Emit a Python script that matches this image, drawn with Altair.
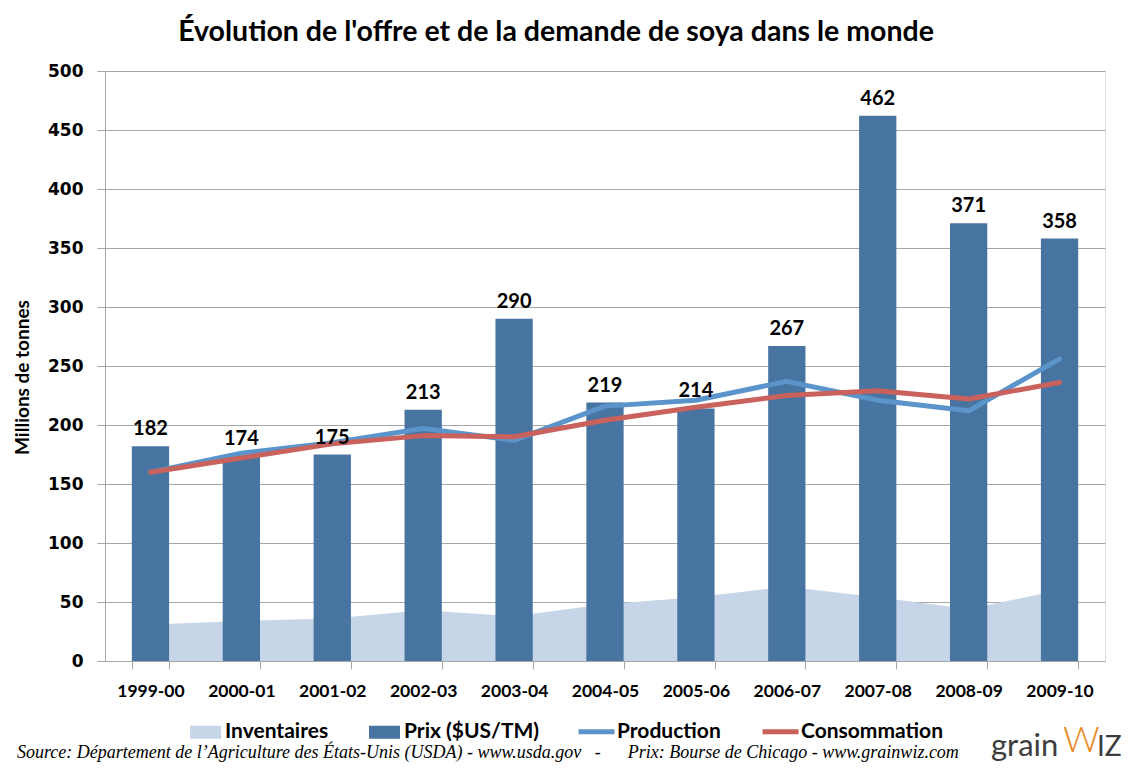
import altair as alt
import pandas as pd

categories = ["1999-00", "2000-01", "2001-02", "2002-03", "2003-04", "2004-05",
              "2005-06", "2006-07", "2007-08", "2008-09", "2009-10"]
prix = [182, 174, 175, 213, 290, 219, 214, 267, 462, 371, 358]
production = [160, 176, 185, 197, 187, 216, 221, 237, 221, 212, 256]
consommation = [160, 172, 184, 191, 190, 204, 215, 225, 229, 222, 236]
inventaires = [31, 34, 36, 43, 38, 48, 54, 63, 54, 44, 60]

fill_domain = ["Inventaires", "Prix ($US/TM)"]
fill_range = ["#c6d6e8", "#4874a1"]
stroke_domain = ["Production", "Consommation"]
stroke_range = ["#5b94cb", "#c9615c"]

title_text = "Évolution de l'offre et de la demande de soya dans le monde"
source_text = ("Source: Département de l\u2019Agriculture des États-Unis (USDA) - www.usda.gov"
               "\u00a0\u00a0\u00a0-\u00a0\u00a0\u00a0\u00a0\u00a0\u00a0Prix: Bourse de Chicago - www.grainwiz.com")

bars_df = pd.DataFrame({"annee": categories, "valeur": prix, "serie": "Prix ($US/TM)"})
area_df = pd.DataFrame({"annee": categories, "valeur": inventaires, "serie": "Inventaires"})
prod_df = pd.DataFrame({"annee": categories, "valeur": production, "serie": "Production"})
cons_df = pd.DataFrame({"annee": categories, "valeur": consommation, "serie": "Consommation"})

GRID = "#a6a6a6"

x = alt.X("annee:N", sort=categories,
          scale=alt.Scale(paddingInner=0.59, paddingOuter=0.295),
          axis=alt.Axis(title=None, labelAngle=0, tickBand="extent", grid=False,
                        labelFont="Lato", labelFontWeight="bold", labelFontSize=17.5,
                        labelColor="black", labelPadding=13, tickSize=8,
                        tickColor=GRID, domainColor=GRID))
y = alt.Y("valeur:Q", scale=alt.Scale(domain=[0, 500], nice=False),
          axis=alt.Axis(values=list(range(0, 501, 50)), title="Millions de tonnes",
                        labelFont="DejaVu Sans", labelFontWeight="bold", labelFontSize=17,
                        labelColor="black", labelPadding=14, tickSize=8,
                        tickColor=GRID, domainColor=GRID, gridColor=GRID,
                        titleFont="Lato", titleFontWeight="bold", titleFontSize=19,
                        titleColor="black", titlePadding=15, titleY=306))

fill_enc = alt.Fill("serie:N", scale=alt.Scale(domain=fill_domain, range=fill_range),
                    legend=alt.Legend(title=None, orient="none", legendX=85, legendY=645.5,
                                      direction="horizontal", padding=0,
                                      symbolType="M-1,-0.42H1V0.42H-1Z", symbolSize=961,
                                      symbolStrokeWidth=0, symbolOpacity=1,
                                      labelFont="Lato", labelFontWeight="bold",
                                      labelFontSize=21, labelColor="black",
                                      labelOffset=4, columnPadding=40))
stroke_enc = alt.Stroke("serie:N", scale=alt.Scale(domain=stroke_domain, range=stroke_range),
                        legend=alt.Legend(title=None, orient="none", legendX=471, legendY=640,
                                          direction="horizontal", padding=0,
                                          symbolType="stroke", symbolSize=1296,
                                          symbolStrokeWidth=5,
                                          labelFont="Lato", labelFontWeight="bold",
                                          labelFontSize=21, labelColor="black",
                                          labelOffset=0, columnPadding=31))

area = alt.Chart(area_df).mark_area(opacity=1).encode(x=x, y=y, fill=fill_enc)
bars = alt.Chart(bars_df).mark_bar().encode(x=x, y=y, fill=fill_enc)
line_prod = alt.Chart(prod_df).mark_line(strokeWidth=5, strokeCap="round", strokeJoin="round").encode(
    x=x, y=y, stroke=stroke_enc)
line_cons = alt.Chart(cons_df).mark_line(strokeWidth=5, strokeCap="round", strokeJoin="round").encode(
    x=x, y=y, stroke=stroke_enc)
labels = alt.Chart(bars_df).mark_text(font="Lato", fontWeight="bold", fontSize=20, dy=-11,
                                      baseline="alphabetic", color="black").encode(
    x=x, y=y, text="valeur:Q")

src_df = pd.DataFrame({"t": [source_text]})
source = alt.Chart(src_df).mark_text(font="Liberation Serif", fontStyle="italic", fontSize=18,
                                     align="left", baseline="alphabetic", color="black").encode(
    x=alt.value(-88), y=alt.value(687), text="t:N")

logo1 = alt.Chart(pd.DataFrame({"t": ["grain"]})).mark_text(
    font="Lato", fontSize=31, align="left", baseline="alphabetic", color="#3d3d3d").encode(
    x=alt.value(886), y=alt.value(685), text="t:N")
logo2 = alt.Chart(pd.DataFrame({"t": ["W"]})).mark_text(
    font="Lato", fontSize=36, fontWeight=300, align="left", baseline="alphabetic", color="#e8891e").encode(
    x=alt.value(958), y=alt.value(681), text="t:N")
logo3 = alt.Chart(pd.DataFrame({"t": ["IZ"]})).mark_text(
    font="Lato", fontSize=28, align="left", baseline="alphabetic", color="#3d3d3d").encode(
    x=alt.value(992), y=alt.value(685), text="t:N")

chart = alt.layer(area, bars, line_prod, line_cons, labels, source, logo1, logo2, logo3).resolve_scale(
    fill="shared", stroke="shared"
).properties(
    width=1000, height=590,
    title=alt.TitleParams(text=title_text, font="Lato", fontSize=28.5, fontWeight="bold",
                          color="black", anchor="middle", frame="group", dx=-49, offset=16),
    autosize=alt.AutoSizeParams(type="none"),
    padding={"left": 97, "top": 63, "right": 24, "bottom": 102},
).configure_view(stroke=None).configure(background="white")

chart.save("out.html", embed_options={"renderer": "svg", "actions": False})
